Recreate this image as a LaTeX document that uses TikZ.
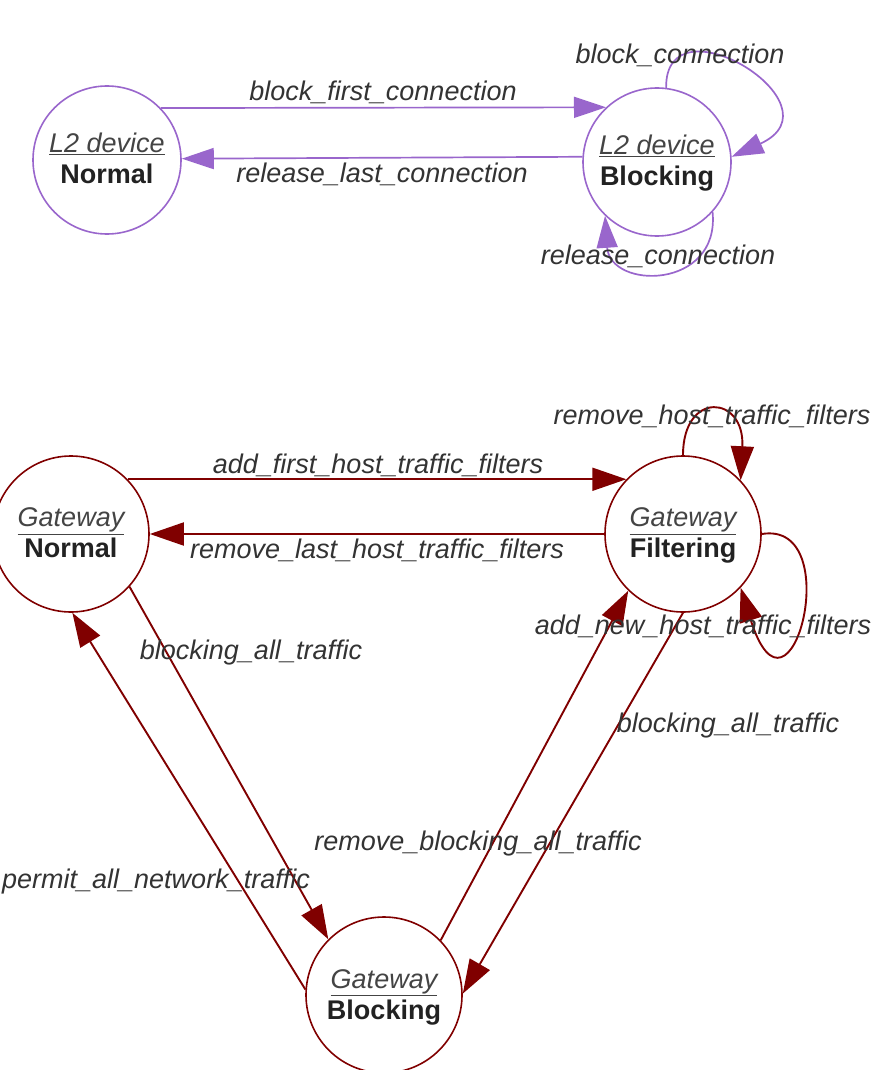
\documentclass[tikz,border=0pt]{standalone}
\usepackage{fontspec}
\setmainfont{Liberation Sans}
\usetikzlibrary{arrows.meta}
\definecolor{lilac}{RGB}{153,102,204}
\definecolor{wine}{RGB}{128,0,0}
\definecolor{kindtext}{RGB}{68,68,68}
\definecolor{labeltext}{RGB}{51,51,51}
\definecolor{nametext}{RGB}{34,34,34}
% two-line state caption: underlined kind, bold name; fixed height/depth
\newcommand{\statecap}[2]{%
  {\color{kindtext}\itshape\rule{0pt}{22.7pt}\underline{#1}}\\%
  {\color{nametext}\bfseries #2\vphantom{g}}}

\begin{document}
\begin{tikzpicture}[x=1pt,y=-1pt,
  every node/.style={font=\fontsize{27}{31}\selectfont},
  l2state/.style={circle, draw=lilac, line width=1.6pt, minimum size=148pt,
    inner sep=0pt, align=center},
  gwstate/.style={circle, draw=wine, line width=1.6pt, minimum size=156pt,
    inner sep=0pt, align=center},
  l2edge/.style={lilac, line width=1.7pt, -{Triangle[length=32pt,width=21pt]}},
  gwedge/.style={wine, line width=1.9pt, -{Triangle[length=34pt,width=23pt]}},
  elabel/.style={font=\fontsize{27}{31}\selectfont\itshape, text=labeltext,
    anchor=base, inner sep=0pt},
]
\path[use as bounding box] (0,0) rectangle (873,1070);

% L2 device states
\node[l2state] (l2n) at (107,160) {\statecap{L2 device}{Normal}};
\node[l2state] (l2b) at (657,162) {\statecap{L2 device}{Blocking}};

% Gateway states
\node[gwstate] (gn) at (71,534) {\statecap{Gateway}{Normal}};
\node[gwstate] (gf) at (683,534) {\statecap{Gateway}{Filtering}};
\node[gwstate] (gb) at (384,995) {\statecap{Gateway}{Blocking}};

% L2 device transitions
\draw[l2edge] (l2n.44.7) -- (l2b.133.9);
\draw[l2edge] (l2b.176.9) -- (l2n.1.5);
\draw[l2edge] (l2b.83) .. controls (665,-5) and (845,105) .. (l2b.4);
\draw[l2edge] (l2b.-42) .. controls (720,290) and (610,290) .. (l2b.-134);

\node[elabel] (lbfc) at (383,101) {block\_first\_connection};
\node[elabel] (lrlc) at (382,182) {release\_last\_connection};
\node[elabel] (lbc)  at (680,64)  {block\_connection};
\node[elabel] (lrc)  at (658,264) {release\_connection};

% Gateway transitions
\draw[gwedge] (gn.44.5) -- (gf.136.2);
\draw[gwedge] (gf.west) -- (gn.east);
\draw[gwedge] (gf.90) .. controls (683,390) and (745,395) .. (gf.43.5);
\draw[gwedge] (gf.0) .. controls (848,520) and (790,745) .. (gf.-43.5);
\draw[gwedge] (gn.-42.4) -- (gb.135);
\draw[gwedge] (gb.176) -- (gn.-89);
\draw[gwedge] (gb.44) -- (gf.-134.5);
\draw[gwedge] (gf.-90) -- (gb.1.5);

\node[elabel] (lafh)  at (378,473) {add\_first\_host\_traffic\_filters};
\node[elabel] (lrlh)  at (377,558) {remove\_last\_host\_traffic\_filters};
\node[elabel] (lrh)   at (712,424) {remove\_host\_traffic\_filters};
\node[elabel] (lanh)  at (703,634) {add\_new\_host\_traffic\_filters};
\node[elabel] (lbat1) at (251,659) {blocking\_all\_traffic};
\node[elabel] (lbat2) at (728,732) {blocking\_all\_traffic};
\node[elabel] (lrba)  at (478,850) {remove\_blocking\_all\_traffic};
\node[elabel] (lpan)  at (156,888) {permit\_all\_network\_traffic};
\end{tikzpicture}
\end{document}
